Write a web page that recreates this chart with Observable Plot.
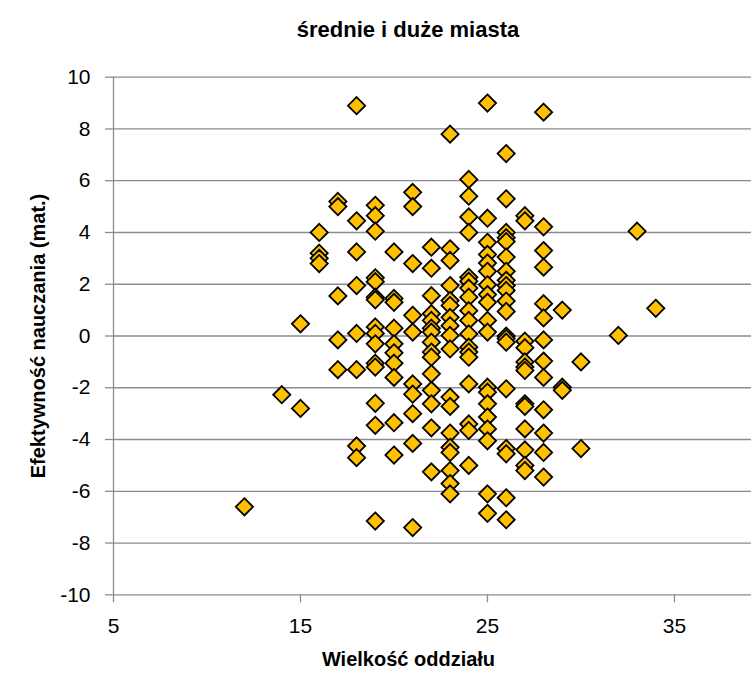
<!DOCTYPE html>
<html>
<head>
<meta charset="utf-8">
<script src="https://cdn.jsdelivr.net/npm/d3@7"></script>
<script src="https://cdn.jsdelivr.net/npm/@observablehq/plot@0.6"></script>
<style>
  html, body { margin: 0; padding: 0; background: #fff; }
  #title {
    box-sizing: border-box; width: 751px; height: 60px;
    padding-top: 17px; padding-left: 65px;
    text-align: center; font-family: "Liberation Sans", Arial, sans-serif;
    font-weight: bold; font-size: 22px; line-height: 26px; color: #000;
  }
</style>
</head>
<body>
<div id="title">średnie i duże miasta</div>
<div id="chart"></div>
<script>
// Class sizes (x) and the effectiveness values observed at each size (y)
const classSizes = [12, 14, 15, 16, 17, 18, 19, 20, 21, 22, 23, 24, 25, 26, 27, 28, 29, 30, 32, 33, 34];
const effectiveness = [
  [-6.6],
  [-2.27],
  [0.47, -2.8],
  [4.0, 3.2, 3.0, 2.8],
  [5.2, 5.0, 1.55, -0.15, -1.3],
  [8.9, 4.45, 3.25, 1.95, 0.1, -1.3, -4.25, -4.7],
  [5.05, 4.65, 4.05, 2.25, 2.1, 1.5, 1.4, 0.35, 0.1, -0.3, -1.05, -1.2, -2.6, -3.45, -7.15],
  [3.25, 1.45, 1.3, 0.3, -0.3, -0.65, -1.05, -1.6, -3.35, -4.6],
  [5.55, 5.0, 2.8, 0.8, 0.15, -1.85, -2.25, -3.0, -4.15, -7.4],
  [3.43, 2.62, 1.56, 0.86, 0.6, 0.3, 0.15, -0.24, -0.62, -0.82, -1.46, -2.1, -2.62, -3.55, -5.25],
  [7.8, 3.37, 2.92, 1.95, 1.37, 1.18, 0.72, 0.4, 0.02, -0.5, -2.36, -2.72, -3.75, -4.3, -4.5, -5.2, -5.7, -6.1],
  [6.05, 5.4, 4.6, 4.0, 2.27, 2.12, 1.85, 1.5, 0.98, 0.6, 0.08, -0.43, -0.62, -0.82, -1.85, -3.4, -3.65, -5.0],
  [9.0, 4.55, 3.62, 3.15, 2.82, 2.5, 1.98, 1.6, 1.3, 0.6, 0.15, -1.98, -2.17, -2.62, -3.13, -3.59, -4.05, -6.1, -6.85],
  [7.05, 5.3, 4.0, 3.8, 3.65, 3.05, 2.5, 2.15, 1.95, 1.76, 1.35, 0.95, 0.0, -0.1, -0.24, -2.04, -4.35, -4.55, -6.25, -7.1],
  [4.65, 4.45, -0.2, -0.45, -1.0, -1.2, -1.33, -2.62, -2.72, -3.59, -4.4, -5.0, -5.2],
  [8.65, 4.22, 3.3, 2.66, 1.25, 0.7, -0.15, -0.97, -1.6, -2.85, -3.75, -4.5, -5.45],
  [1.0, -1.98, -2.1],
  [-1.0, -4.35],
  [0.02],
  [4.05],
  [1.07]
];
const xTicks = [5, 15, 25, 35];
const yTicks = [-10, -8, -6, -4, -2, 0, 2, 4, 6, 8, 10];
const xLabel = "Wielkość oddziału";
const yLabel = "Efektywność nauczania (mat.)";

const points = classSizes.flatMap((s, i) => effectiveness[i].map(v => ({size: s, eff: v})));

const squareDiamond = {
  draw(ctx, size) {
    const h = Math.sqrt(size / Math.PI);
    ctx.moveTo(0, -h); ctx.lineTo(h, 0); ctx.lineTo(0, h); ctx.lineTo(-h, 0); ctx.closePath();
  }
};

const gridColor = "#8c8c8c";
const font = "'Liberation Sans', Arial, sans-serif";

const chart = Plot.plot({
  width: 751,
  height: 616,
  marginLeft: 113,
  marginRight: 0,
  marginTop: 16.7,
  marginBottom: 81.7,
  x: {domain: [5, 39.12]},
  y: {domain: [-10, 10]},
  style: {fontFamily: font, fontSize: "21px", color: "#000", background: "#fff", overflow: "visible"},
  marks: [
    Plot.ruleY(yTicks, {stroke: gridColor, strokeWidth: 1.3}),
    Plot.ruleX([5], {stroke: gridColor, strokeWidth: 1.3}),
    Plot.axisY({ticks: yTicks, tickSize: 8, tickPadding: 15, stroke: gridColor, strokeWidth: 1.3,
      tickFormat: d => String(d), label: null, fontSize: 21}),
    Plot.axisX({ticks: xTicks, tickSize: 8, tickPadding: 15, stroke: gridColor, strokeWidth: 1.3,
      tickFormat: d => String(d), label: null, fontSize: 21}),
    Plot.text([yLabel], {frameAnchor: "left", textAnchor: "middle", rotate: -90, dx: -75, fontWeight: "bold", fontSize: 20, fill: "#000"}),
    Plot.text([xLabel], {frameAnchor: "bottom", textAnchor: "middle", dx: -24, dy: 71.3, fontWeight: "bold", fontSize: 20, fill: "#000"}),
    Plot.dot(points, {x: "size", y: "eff", symbol: squareDiamond, r: 8.6, fill: "#FFC000", stroke: "#000", strokeWidth: 1.8})
  ]
});
document.getElementById("chart").appendChild(chart);
</script>
</body>
</html>
